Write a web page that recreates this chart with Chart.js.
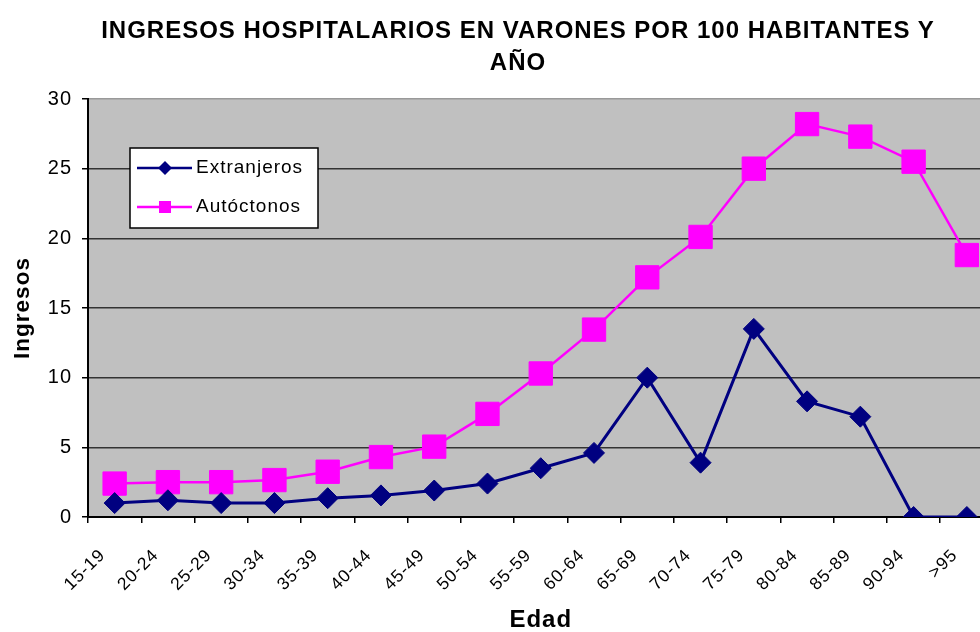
<!DOCTYPE html>
<html>
<head>
<meta charset="utf-8">
<script src="https://cdn.jsdelivr.net/npm/chart.js@4"></script>
<style>
  html, body { margin: 0; padding: 0; background: #fff; overflow: hidden; }
  #title {
    position: absolute; left: 0; top: 14px; width: 1036px;
    text-align: center; white-space: nowrap;
    font: bold 24px 'Liberation Sans', Arial, sans-serif;
    letter-spacing: 1px; line-height: 32px; color: #000;
  }
  #wrap { position: absolute; left: 0; top: 0; width: 1011px; height: 640px; }
</style>
</head>
<body>
<div id="wrap"><canvas id="chart"></canvas></div>
<div id="title">INGRESOS HOSPITALARIOS EN VARONES POR 100 HABITANTES Y<br>AÑO</div>
<script>
const ageGroups = ['15-19', '20-24', '25-29', '30-34', '35-39', '40-44', '45-49', '50-54',
  '55-59', '60-64', '65-69', '70-74', '75-79', '80-84', '85-89', '90-94', '>95'];
const extranjeros = [1.0, 1.2, 1.0, 1.0, 1.35, 1.55, 1.9, 2.4, 3.5, 4.6, 10.0, 3.9, 13.5, 8.3, 7.2, 0, 0];
const autoctonos = [2.4, 2.5, 2.5, 2.65, 3.25, 4.3, 5.05, 7.4, 10.3, 13.45, 17.2, 20.1, 25.0, 28.2, 27.3, 25.5, 18.8];
const yTicks = [0, 5, 10, 15, 20, 25, 30];

const FONT = "'Liberation Sans', Arial, sans-serif";
Chart.defaults.font.family = FONT;
Chart.defaults.color = '#000';

// the original lettering is a bit wide
const spacing = {
  id: 'spacing',
  beforeLayout(chart) { chart.ctx.letterSpacing = '1px'; },
  beforeDraw(chart) { chart.ctx.letterSpacing = '1px'; }
};

const plotBg = {
  id: 'plotBg',
  beforeDraw(chart) {
    const { ctx, chartArea: a } = chart;
    ctx.save();
    ctx.fillStyle = '#c0c0c0';
    ctx.fillRect(a.left, a.top, a.right - a.left, a.bottom - a.top);
    ctx.restore();
  }
};

const boxLegend = {
  id: 'boxLegend',
  afterDraw(chart) {
    const ctx = chart.ctx;
    ctx.save();
    ctx.fillStyle = '#fff';
    ctx.fillRect(130, 148, 188, 80);
    ctx.strokeStyle = '#000';
    ctx.lineWidth = 1.5;
    ctx.strokeRect(130, 148, 188, 80);
    const items = [
      { label: 'Extranjeros', color: '#000080', y: 168, shape: 'diamond' },
      { label: 'Autóctonos', color: '#ff00ff', y: 207, shape: 'square' }
    ];
    items.forEach(it => {
      ctx.strokeStyle = it.color;
      ctx.lineWidth = 2.5;
      ctx.beginPath();
      ctx.moveTo(137, it.y);
      ctx.lineTo(192, it.y);
      ctx.stroke();
      ctx.fillStyle = it.color;
      ctx.beginPath();
      if (it.shape === 'diamond') {
        ctx.moveTo(158, it.y); ctx.lineTo(165, it.y - 7);
        ctx.lineTo(172, it.y); ctx.lineTo(165, it.y + 7);
        ctx.closePath();
      } else {
        ctx.rect(159, it.y - 6, 12, 12);
      }
      ctx.fill();
      ctx.fillStyle = '#000';
      ctx.font = '19px ' + FONT;
      ctx.textBaseline = 'middle';
      ctx.textAlign = 'left';
      ctx.fillText(it.label, 196, it.y);
    });
    ctx.restore();
  }
};

new Chart(document.getElementById('chart'), {
  type: 'line',
  data: {
    labels: ageGroups,
    datasets: [
      {
        label: 'Extranjeros',
        data: extranjeros,
        borderColor: '#000080',
        backgroundColor: '#000080',
        borderWidth: 3,
        pointStyle: 'rectRot',
        pointRadius: 10.5,
        pointBorderWidth: 1,
        tension: 0
      },
      {
        label: 'Autóctonos',
        data: autoctonos,
        borderColor: '#ff00ff',
        backgroundColor: '#ff00ff',
        borderWidth: 2.5,
        pointStyle: 'rect',
        pointRadius: 16.5,
        pointBorderWidth: 1,
        tension: 0
      }
    ]
  },
  options: {
    responsive: true,
    maintainAspectRatio: false,
    animation: false,
    layout: { padding: { top: 99, right: 7, left: 0, bottom: 0 } },
    plugins: {
      legend: { display: false },
      title: { display: false },
      tooltip: { enabled: false }
    },
    scales: {
      x: {
        offset: true,
        afterFit: (s) => { s.height = 123; },
        grid: {
          offset: true,
          drawOnChartArea: false,
          drawTicks: true,
          tickLength: 6,
          tickColor: '#000',
          lineWidth: 1.5
        },
        border: { color: '#000', width: 2 },
        ticks: {
          autoSkip: false,
          minRotation: 45,
          maxRotation: 45,
          padding: 22,
          labelOffset: -12,
          color: '#000',
          font: { size: 17.5 }
        },
        title: {
          display: true,
          text: 'Edad',
          color: '#000',
          font: { size: 24, weight: 'bold' },
          padding: { top: 0, bottom: 5 }
        }
      },
      y: {
        min: 0,
        max: 30,
        afterFit: (s) => { s.width = 88; },
        afterBuildTicks: (s) => { s.ticks = yTicks.map(v => ({ value: v })); },
        grid: {
          color: (c) => (c.tick && c.tick.value === 30 ? '#999' : '#333'),
          lineWidth: 1.5,
          drawTicks: true,
          tickLength: 6,
          tickColor: '#000'
        },
        border: { color: '#000', width: 2 },
        ticks: {
          padding: 10,
          color: '#000',
          font: { size: 20 }
        },
        title: {
          display: true,
          text: 'Ingresos',
          color: '#000',
          font: { size: 22.5, weight: 'bold' },
          padding: { top: 9, bottom: 0 }
        }
      }
    }
  },
  plugins: [spacing, plotBg, boxLegend]
});
</script>
</body>
</html>
